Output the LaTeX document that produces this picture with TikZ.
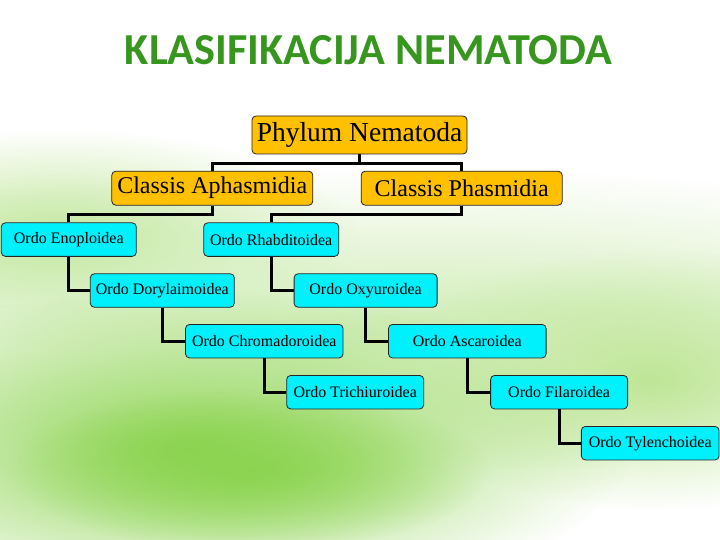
\documentclass[tikz,border=0pt]{standalone}
\usepackage{fontspec}
\setmainfont{Liberation Serif}
\newfontfamily\titlefont{Carlito}
\usetikzlibrary{fadings}
\definecolor{orangebox}{RGB}{255,192,0}
\definecolor{cyanbox}{RGB}{0,240,252}
\definecolor{titlegreen}{RGB}{55,150,30}
\definecolor{gbright}{RGB}{140,212,80}
\definecolor{gsoft}{RGB}{190,230,150}
\definecolor{gpale}{RGB}{210,238,185}
\tikzfading[name=softfade, inner color=transparent!0, outer color=transparent!100]
\pgfdeclarelayer{bg}
\pgfdeclarelayer{lines}
\pgfsetlayers{bg,lines,main}
\tikzset{
  box/.style={draw=black!85, line width=0.8pt, rounded corners=4pt, inner sep=0pt, align=center},
  topbox/.style={box, fill=orangebox, minimum height=38pt, font=\fontsize{27.5}{30}\selectfont},
  clsbox/.style={box, fill=orangebox, minimum height=34pt, minimum width=201pt, font=\fontsize{24}{27}\selectfont},
  ordbox/.style={box, fill=cyanbox, minimum height=33.5pt, font=\fontsize{16}{18}\selectfont},
  conn/.style={draw=black, line width=3pt, line join=miter}
}
\begin{document}
\begin{tikzpicture}[x=1pt,y=-1pt]
\useasboundingbox (0,0) rectangle (720,540);
\begin{pgfonlayer}{bg}
  \fill[white] (0,0) rectangle (720,540);
  \fill[gsoft, path fading=softfade] (60,240) ellipse [x radius=300, y radius=110];
  \fill[gpale, path fading=softfade] (420,320) ellipse [x radius=760, y radius=150];
  \fill[gsoft, path fading=softfade] (650,380) ellipse [x radius=260, y radius=130];
  \fill[gbright, path fading=softfade] (190,450) ellipse [x radius=440, y radius=160];
  \fill[gbright, path fading=softfade] (250,470) ellipse [x radius=240, y radius=80];
\end{pgfonlayer}

\node[font=\titlefont\bfseries, text=titlegreen, inner sep=0pt] (title) at (368.5,50.5)
  {\resizebox{487pt}{29pt}{KLASIFIKACIJA NEMATODA}};

\node[topbox, minimum width=215pt] (ph) at (359.5,135) {Phylum Nematoda};
\node[clsbox] (ca) at (212.3,188.2) {Classis Aphasmidia};
\node[clsbox] (cp) at (461.7,188.2) {Classis Phasmidia};

\node[ordbox, minimum width=135pt] (en) at (68.8,239.6) {Ordo Enoploidea};
\node[ordbox, minimum width=135pt] (rh) at (271.2,239.6) {Ordo Rhabditoidea};
\node[ordbox, minimum width=144pt] (do) at (162.3,290.5) {Ordo Dorylaimoidea};
\node[ordbox, minimum width=143pt] (ox) at (365.6,290.5) {Ordo Oxyuroidea};
\node[ordbox, minimum width=157.5pt] (ch) at (264.3,341.2) {Ordo Chromadoroidea};
\node[ordbox, minimum width=157.6pt] (as) at (467.3,341.2) {Ordo Ascaroidea};
\node[ordbox, minimum width=137pt] (tr) at (355.2,392.2) {Ordo Trichiuroidea};
\node[ordbox, minimum width=137pt] (fi) at (559.1,392.2) {Ordo Filaroidea};
\node[ordbox, minimum width=137.7pt] (ty) at (650.2,443.2) {Ordo Tylenchoidea};

\begin{pgfonlayer}{lines}
  \draw[conn] (ph.south) -- ++(0,9) -| (ca.north);
  \draw[conn] (ph.south) -- ++(0,9) -| (cp.north);
  \draw[conn] (ca.south) -- ++(0,9) -| (en.north);
  \draw[conn] (cp.south) -- ++(0,9) -| (rh.north);
  \draw[conn] (en.south) |- (do.west);
  \draw[conn] (do.south) |- (ch.west);
  \draw[conn] (ch.south) |- (tr.west);
  \draw[conn] (rh.south) |- (ox.west);
  \draw[conn] (ox.south) |- (as.west);
  \draw[conn] (as.south) |- (fi.west);
  \draw[conn] (fi.south) |- (ty.west);
\end{pgfonlayer}
\end{tikzpicture}
\end{document}
